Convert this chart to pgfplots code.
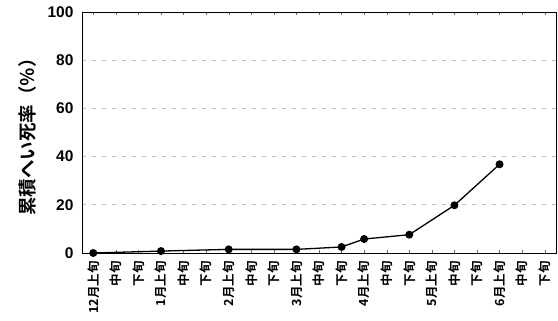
\documentclass[border=0pt]{standalone}
\usepackage{fontspec}
\setmainfont{Liberation Sans}
\newfontfamily\cjk{Noto Sans CJK JP}[BoldFont={Noto Sans CJK JP Bold}]
\usepackage{pgfplots}
\pgfplotsset{compat=1.18}
\begin{document}
\begin{tikzpicture}
\begin{axis}[
  scale only axis,
  width=474pt, height=241pt,
  xmin=-0.5, xmax=20.5,
  ymin=0, ymax=100,
  ytick={0,20,40,60,80,100},
  xtick={0,...,20},
  xticklabels={12月上旬,中旬,下旬,1月上旬,中旬,下旬,2月上旬,中旬,下旬,3月上旬,中旬,下旬,4月上旬,中旬,下旬,5月上旬,中旬,下旬,6月上旬,中旬,下旬},
  x tick label style={rotate=90, anchor=east, font=\cjk\bfseries\fontsize{12.5}{12.5}\selectfont, inner sep=0pt, xshift=-8pt},
  y tick label style={font=\bfseries\fontsize{15.5}{16}\selectfont, xshift=-5pt},
  /pgf/number format/assume math mode=true,
  ylabel={\cjk\bfseries 累積へい死率（％）},
  ylabel style={font=\fontsize{18.5}{19}\selectfont, yshift=4pt},
  ymajorgrids,
  grid style={gray!50, dash pattern=on 4pt off 6pt, line width=0.9pt},
  major y tick style={draw=none},
  major x tick style={black!60, line width=0.4pt},
  xtick align=inside,
  major tick length=3pt,
  axis line style={black, line width=0.9pt},
  clip=false,
]
\addplot[black, line width=1.3pt, mark=*, mark size=3.3pt] coordinates {
  (0,0) (3,0.8) (6,1.5) (9,1.5) (11,2.5) (12,5.8) (14,7.6) (16,19.8) (18,36.8)
};
\path (rel axis cs:0,0) ++(-82pt,-68pt) rectangle ++(558pt,321pt);
\end{axis}
\end{tikzpicture}
\end{document}
